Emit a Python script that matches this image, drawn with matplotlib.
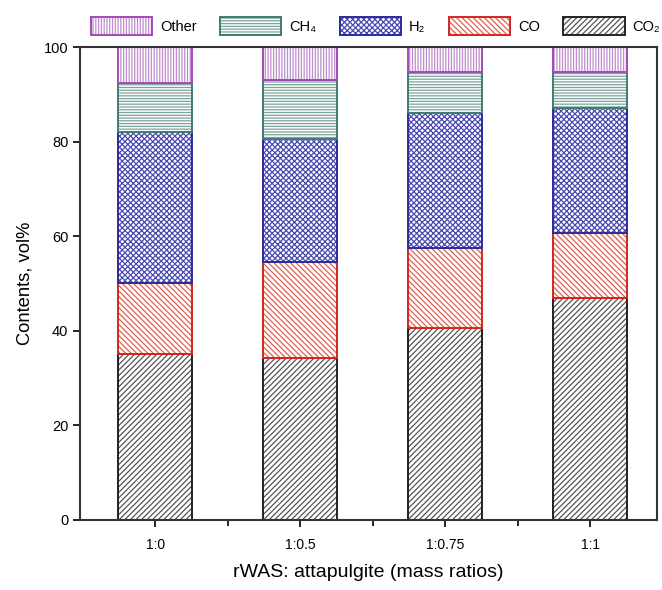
import matplotlib
matplotlib.use("Agg")
import matplotlib.pyplot as plt
import numpy as np

plt.rcParams['font.family'] = ['Liberation Sans', 'DejaVu Sans']
plt.rcParams['hatch.linewidth'] = 0.9

ratios = ['1:0', '1:0.5', '1:0.75', '1:1']
co2 = [35.1, 34.2, 40.6, 46.9]
co = [15.0, 20.4, 16.9, 13.8]
h2 = [32.0, 25.9, 28.5, 26.5]
ch4 = [10.4, 12.5, 8.7, 7.6]
other = [7.5, 7.0, 5.3, 5.2]

# name, values, edge colour, hatch colour, hatch
series = [
    ('CO₂', co2, '#222222', '#555555', '//////'),
    ('CO', co, '#d0281e', '#e0604f', '\\\\\\\\\\\\'),
    ('H₂', h2, '#2b2b9c', '#4a4ab0', 'xxxxxx'),
    ('CH₄', ch4, '#3e7c72', '#7aa39c', '------'),
    ('Other', other, '#a04cb4', '#bf8ccc', '||||||'),
]

fig = plt.figure(figsize=(6.62, 5.9), dpi=100)
ax = fig.add_axes([0.121, 0.119, 0.871, 0.801])

x = np.arange(len(ratios))
bottom = np.zeros(len(ratios))
handles = {}
for name, vals, col, hcol, hatch in series:
    hb = ax.bar(x, vals, 0.51, bottom=bottom, facecolor='white',
                edgecolor=hcol, hatch=hatch, linewidth=0)
    ob = ax.bar(x, vals, 0.51, bottom=bottom, fill=False,
                edgecolor=col, linewidth=1.4)
    handles[name] = (hb, ob)
    bottom += np.array(vals)

ax.set_xlim(-0.52, 3.46)
ax.set_ylim(0, 100)
ax.set_xticks(x)
ax.set_xticklabels(ratios, fontsize=10)
ax.set_xticks(x[:-1] + 0.5, minor=True)
ax.set_yticks([0, 20, 40, 60, 80, 100])
ax.tick_params(axis='y', labelsize=10.5, length=5, width=1.2)
ax.tick_params(axis='x', which='major', length=5, width=1.2, pad=8)
ax.tick_params(axis='x', which='minor', length=4, width=1.2)
for s in ax.spines.values():
    s.set_linewidth(1.5)
    s.set_color('#333333')

ax.set_ylabel('Contents, vol%', fontsize=13.2, labelpad=7)
ax.set_xlabel('rWAS: attapulgite (mass ratios)', fontsize=14, labelpad=9)

order = ['Other', 'CH₄', 'H₂', 'CO', 'CO₂']
fig.legend([handles[k] for k in order], order, ncol=5, frameon=False,
           loc='center left', bbox_to_anchor=(91 / 662, 1 - 26 / 590),
           fontsize=10.5, handlelength=4.2, handleheight=1.5,
           columnspacing=1.6, handletextpad=0.55, borderpad=0,
           borderaxespad=0)

fig.savefig('out.png', dpi=100)
